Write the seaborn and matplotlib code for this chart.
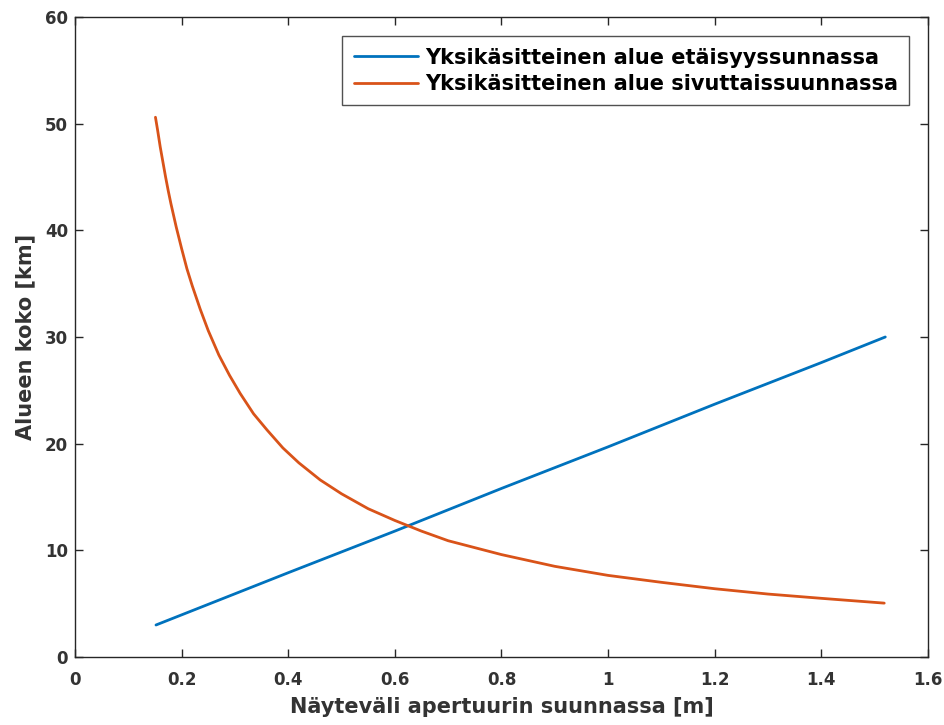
import pandas as pd
import matplotlib
matplotlib.use("Agg")
import matplotlib.pyplot as plt
import seaborn as sns

# values
range_x = [0.152, 0.4, 0.6, 0.8, 1.0, 1.2, 1.4, 1.52]
range_y = [3.0, 7.9, 11.8, 15.8, 19.7, 23.7, 27.6, 30.0]

side_x = [0.151, 0.155, 0.16, 0.165, 0.17, 0.175, 0.18, 0.19, 0.2, 0.21, 0.22,
          0.235, 0.25, 0.27, 0.29, 0.31, 0.335, 0.36, 0.39, 0.42, 0.46, 0.5,
          0.55, 0.6, 0.65, 0.7, 0.8, 0.9, 1.0, 1.1, 1.2, 1.3, 1.4, 1.518]
side_y = [50.6, 49.4, 47.8, 46.4, 45.0, 43.7, 42.5, 40.3, 38.3, 36.4, 34.8,
          32.6, 30.6, 28.3, 26.4, 24.7, 22.8, 21.3, 19.6, 18.2, 16.6, 15.3,
          13.9, 12.8, 11.8, 10.9, 9.6, 8.5, 7.65, 7.0, 6.4, 5.9, 5.5, 5.05]

labels = ["Yksikäsitteinen alue etäisyyssunnassa",
          "Yksikäsitteinen alue sivuttaissuunnassa"]
colors = ["#0072BD", "#D95319"]
xticks = [0, 0.2, 0.4, 0.6, 0.8, 1.0, 1.2, 1.4, 1.6]
xtick_labels = ["0", "0.2", "0.4", "0.6", "0.8", "1", "1.2", "1.4", "1.6"]
yticks = [0, 10, 20, 30, 40, 50, 60]

df = pd.concat([
    pd.DataFrame({"x": range_x, "y": range_y, "series": labels[0]}),
    pd.DataFrame({"x": side_x, "y": side_y, "series": labels[1]}),
])

sns.set_style("ticks")
plt.rcParams["font.family"] = ["DejaVu Sans"]
plt.rcParams["font.weight"] = "bold"

fig = plt.figure(figsize=(9.44, 7.25), dpi=100)
ax = fig.add_axes([0.0794, 0.0938, 0.9036, 0.8828])

sns.lineplot(data=df, x="x", y="y", hue="series", palette=colors,
             linewidth=2.0, sort=False, ax=ax)

ax.set_xlim(0, 1.6)
ax.set_ylim(0, 60)
ax.set_xticks(xticks)
ax.set_xticklabels(xtick_labels)
ax.set_yticks(yticks)

ax.tick_params(direction="in", top=True, right=True, length=6, width=1,
               color="#262626", labelcolor="#333333", labelsize=12)
ax.tick_params(axis="x", pad=10)
ax.tick_params(axis="y", pad=5)
for lbl in ax.get_xticklabels() + ax.get_yticklabels():
    lbl.set_fontweight("bold")
for s in ax.spines.values():
    s.set_visible(True)
    s.set_color("#262626")
    s.set_linewidth(1.0)

ax.set_xlabel("Näyteväli apertuurin suunnassa [m]", fontsize=15,
              fontweight="bold", color="#333333", labelpad=6)
ax.set_ylabel("Alueen koko [km]", fontsize=15, fontweight="bold",
              color="#333333", labelpad=7)

leg = ax.legend(loc="upper right", bbox_to_anchor=(0.978, 0.970),
                borderaxespad=0, fontsize=15, frameon=True, fancybox=False,
                handlelength=3.1, borderpad=0.55, labelspacing=0.3,
                handletextpad=0.3)
leg.get_frame().set_edgecolor("#262626")
leg.get_frame().set_linewidth(1.0)
for t in leg.get_texts():
    t.set_fontweight("bold")
    t.set_color("black")

fig.savefig("out.png", dpi=100)
